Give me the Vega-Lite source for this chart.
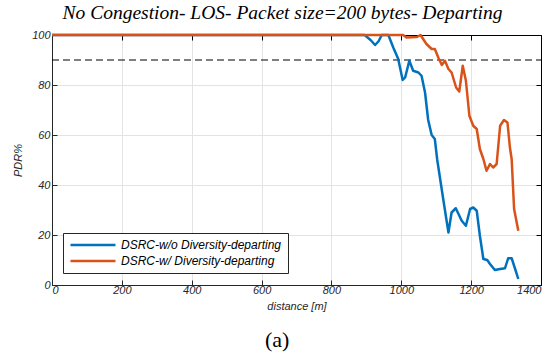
{
  "$schema": "https://vega.github.io/schema/vega-lite/v6.json",
  "background": "white",
  "padding": {"left": 12, "top": 2, "right": 14, "bottom": 2},
  "title": {
    "text": "(a)",
    "orient": "bottom",
    "anchor": "middle",
    "font": "Liberation Serif",
    "fontSize": 22,
    "fontWeight": "normal",
    "color": "black",
    "offset": 19
  },
  "config": {
    "view": {"stroke": null},
    "axis": {
      "labelFont": "Liberation Sans",
      "labelFontStyle": "italic",
      "labelFontSize": 11,
      "labelColor": "#262626",
      "titleFont": "Liberation Sans",
      "titleFontStyle": "italic",
      "titleFontWeight": "normal",
      "titleFontSize": 11,
      "titleColor": "#262626",
      "domainColor": "#262626",
      "tickColor": "#262626",
      "gridColor": "#e3e3e3",
      "gridWidth": 1
    }
  },
  "vconcat": [
    {
      "width": 489,
      "height": 250,
      "title": {
        "text": "No Congestion- LOS- Packet size=200 bytes- Departing",
        "font": "Liberation Serif",
        "fontStyle": "italic",
        "fontWeight": "normal",
        "fontSize": 19.5,
        "color": "black",
        "anchor": "middle",
        "dx": -14,
        "offset": 6
      },
      "resolve": {"axis": {"x": "independent", "y": "independent"}},
      "layer": [
        {
          "data": {"values": [{"threshold": 90, "from": 0, "to": 1400}]},
          "mark": {"type": "rule", "color": "black", "strokeWidth": 1.2, "strokeDash": [7, 4]},
          "encoding": {
            "y": {
              "field": "threshold", "type": "quantitative",
              "scale": {"domain": [0, 100]},
              "axis": {"orient": "right", "labels": false, "title": null, "grid": false, "tickCount": 5, "tickSize": -5, "domainColor": "black", "tickColor": "black"}
            },
            "x": {
              "field": "from", "type": "quantitative",
              "scale": {"domain": [0, 1400]},
              "axis": {"orient": "top", "labels": false, "title": null, "grid": false, "tickCount": 7, "tickSize": -5, "domainColor": "black", "tickColor": "black"}
            },
            "x2": {"field": "to"}
          }
        },
        {
          "data": {
            "values": [
              {"series": "DSRC-w/o Diversity-departing", "distance": 0, "pdr": 100},
              {"series": "DSRC-w/o Diversity-departing", "distance": 895, "pdr": 100},
              {"series": "DSRC-w/o Diversity-departing", "distance": 912, "pdr": 98},
              {"series": "DSRC-w/o Diversity-departing", "distance": 925, "pdr": 96},
              {"series": "DSRC-w/o Diversity-departing", "distance": 935, "pdr": 97.5},
              {"series": "DSRC-w/o Diversity-departing", "distance": 944, "pdr": 100},
              {"series": "DSRC-w/o Diversity-departing", "distance": 963, "pdr": 100},
              {"series": "DSRC-w/o Diversity-departing", "distance": 977, "pdr": 95},
              {"series": "DSRC-w/o Diversity-departing", "distance": 991, "pdr": 90.5},
              {"series": "DSRC-w/o Diversity-departing", "distance": 1004, "pdr": 82},
              {"series": "DSRC-w/o Diversity-departing", "distance": 1011, "pdr": 83},
              {"series": "DSRC-w/o Diversity-departing", "distance": 1023, "pdr": 89.7},
              {"series": "DSRC-w/o Diversity-departing", "distance": 1034, "pdr": 85.7},
              {"series": "DSRC-w/o Diversity-departing", "distance": 1049, "pdr": 85},
              {"series": "DSRC-w/o Diversity-departing", "distance": 1058, "pdr": 83.7},
              {"series": "DSRC-w/o Diversity-departing", "distance": 1068, "pdr": 77},
              {"series": "DSRC-w/o Diversity-departing", "distance": 1077, "pdr": 66},
              {"series": "DSRC-w/o Diversity-departing", "distance": 1087, "pdr": 60},
              {"series": "DSRC-w/o Diversity-departing", "distance": 1096, "pdr": 58.4},
              {"series": "DSRC-w/o Diversity-departing", "distance": 1103, "pdr": 50},
              {"series": "DSRC-w/o Diversity-departing", "distance": 1120, "pdr": 34.4},
              {"series": "DSRC-w/o Diversity-departing", "distance": 1135, "pdr": 21},
              {"series": "DSRC-w/o Diversity-departing", "distance": 1144, "pdr": 29},
              {"series": "DSRC-w/o Diversity-departing", "distance": 1156, "pdr": 30.7},
              {"series": "DSRC-w/o Diversity-departing", "distance": 1173, "pdr": 25.7},
              {"series": "DSRC-w/o Diversity-departing", "distance": 1185, "pdr": 23.7},
              {"series": "DSRC-w/o Diversity-departing", "distance": 1197, "pdr": 30.4},
              {"series": "DSRC-w/o Diversity-departing", "distance": 1206, "pdr": 31},
              {"series": "DSRC-w/o Diversity-departing", "distance": 1216, "pdr": 29.7},
              {"series": "DSRC-w/o Diversity-departing", "distance": 1225, "pdr": 19.7},
              {"series": "DSRC-w/o Diversity-departing", "distance": 1235, "pdr": 10.4},
              {"series": "DSRC-w/o Diversity-departing", "distance": 1246, "pdr": 10},
              {"series": "DSRC-w/o Diversity-departing", "distance": 1254, "pdr": 8.4},
              {"series": "DSRC-w/o Diversity-departing", "distance": 1268, "pdr": 6},
              {"series": "DSRC-w/o Diversity-departing", "distance": 1283, "pdr": 6.4},
              {"series": "DSRC-w/o Diversity-departing", "distance": 1297, "pdr": 6.7},
              {"series": "DSRC-w/o Diversity-departing", "distance": 1306, "pdr": 10.7},
              {"series": "DSRC-w/o Diversity-departing", "distance": 1316, "pdr": 10.7},
              {"series": "DSRC-w/o Diversity-departing", "distance": 1326, "pdr": 6.4},
              {"series": "DSRC-w/o Diversity-departing", "distance": 1335, "pdr": 2.4},
              {"series": "DSRC-w/ Diversity-departing", "distance": 0, "pdr": 100},
              {"series": "DSRC-w/ Diversity-departing", "distance": 1005, "pdr": 100},
              {"series": "DSRC-w/ Diversity-departing", "distance": 1015, "pdr": 99},
              {"series": "DSRC-w/ Diversity-departing", "distance": 1045, "pdr": 99.2},
              {"series": "DSRC-w/ Diversity-departing", "distance": 1055, "pdr": 100},
              {"series": "DSRC-w/ Diversity-departing", "distance": 1072, "pdr": 96.4},
              {"series": "DSRC-w/ Diversity-departing", "distance": 1087, "pdr": 94.4},
              {"series": "DSRC-w/ Diversity-departing", "distance": 1096, "pdr": 94.4},
              {"series": "DSRC-w/ Diversity-departing", "distance": 1106, "pdr": 91},
              {"series": "DSRC-w/ Diversity-departing", "distance": 1116, "pdr": 88},
              {"series": "DSRC-w/ Diversity-departing", "distance": 1125, "pdr": 89.7},
              {"series": "DSRC-w/ Diversity-departing", "distance": 1135, "pdr": 86.4},
              {"series": "DSRC-w/ Diversity-departing", "distance": 1144, "pdr": 85},
              {"series": "DSRC-w/ Diversity-departing", "distance": 1157, "pdr": 79},
              {"series": "DSRC-w/ Diversity-departing", "distance": 1166, "pdr": 77.4},
              {"series": "DSRC-w/ Diversity-departing", "distance": 1176, "pdr": 87.7},
              {"series": "DSRC-w/ Diversity-departing", "distance": 1185, "pdr": 81.7},
              {"series": "DSRC-w/ Diversity-departing", "distance": 1195, "pdr": 67.7},
              {"series": "DSRC-w/ Diversity-departing", "distance": 1206, "pdr": 63.7},
              {"series": "DSRC-w/ Diversity-departing", "distance": 1216, "pdr": 62.4},
              {"series": "DSRC-w/ Diversity-departing", "distance": 1225, "pdr": 54.4},
              {"series": "DSRC-w/ Diversity-departing", "distance": 1235, "pdr": 50.4},
              {"series": "DSRC-w/ Diversity-departing", "distance": 1244, "pdr": 45.7},
              {"series": "DSRC-w/ Diversity-departing", "distance": 1254, "pdr": 48.4},
              {"series": "DSRC-w/ Diversity-departing", "distance": 1263, "pdr": 47},
              {"series": "DSRC-w/ Diversity-departing", "distance": 1273, "pdr": 48.4},
              {"series": "DSRC-w/ Diversity-departing", "distance": 1283, "pdr": 63.7},
              {"series": "DSRC-w/ Diversity-departing", "distance": 1294, "pdr": 66},
              {"series": "DSRC-w/ Diversity-departing", "distance": 1304, "pdr": 65},
              {"series": "DSRC-w/ Diversity-departing", "distance": 1311, "pdr": 55},
              {"series": "DSRC-w/ Diversity-departing", "distance": 1316, "pdr": 50.4},
              {"series": "DSRC-w/ Diversity-departing", "distance": 1323, "pdr": 30.4},
              {"series": "DSRC-w/ Diversity-departing", "distance": 1335, "pdr": 21.7}
            ]
          },
          "mark": {"type": "line", "strokeWidth": 2.5, "strokeJoin": "round"},
          "encoding": {
            "x": {
              "field": "distance", "type": "quantitative",
              "scale": {"domain": [0, 1400]},
              "axis": {"orient": "bottom", "title": "distance [m]", "format": "d", "tickCount": 7, "tickSize": -5, "labelPadding": 4, "titlePadding": 5, "grid": true}
            },
            "y": {
              "field": "pdr", "type": "quantitative",
              "scale": {"domain": [0, 100]},
              "axis": {"orient": "left", "title": "PDR%", "tickCount": 5, "tickSize": -5, "labelPadding": 7, "titlePadding": 8, "grid": true}
            },
            "color": {
              "field": "series", "type": "nominal",
              "sort": ["DSRC-w/o Diversity-departing", "DSRC-w/ Diversity-departing"],
              "scale": {
                "domain": ["DSRC-w/o Diversity-departing", "DSRC-w/ Diversity-departing"],
                "range": ["#0072BD", "#D95319"]
              },
              "legend": {
                "title": null,
                "orient": "none",
                "legendX": 11,
                "legendY": 198,
                "symbolType": "stroke",
                "symbolSize": 2025,
                "symbolStrokeWidth": 2.5,
                "clipHeight": 12,
                "labelFont": "Liberation Sans",
                "labelFontStyle": "italic",
                "labelFontSize": 12,
                "labelLimit": 300,
                "labelColor": "black",
                "strokeColor": "#262626",
                "fillColor": "white",
                "padding": 6,
                "rowPadding": 4,
                "labelOffset": 4,
                "cornerRadius": 0
              }
            }
          }
        }
      ]
    }
  ]
}
